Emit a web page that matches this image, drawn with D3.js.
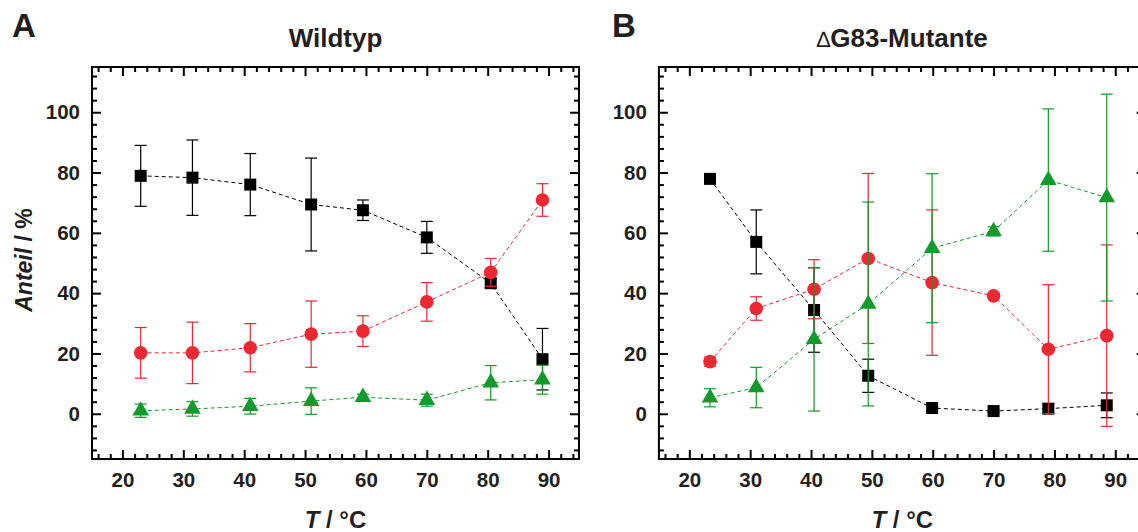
<!DOCTYPE html>
<html><head><meta charset="utf-8">
<script src="https://cdn.jsdelivr.net/npm/d3@7"></script>
<style>
body{margin:0;background:#fff}
svg{display:block}
text{font-family:"Liberation Sans",Arial,Helvetica,sans-serif}
</style>
</head><body>
<svg id="chart" width="1138" height="532"></svg>
<script>
// ---- data ----
const xTicks = [20, 30, 40, 50, 60, 70, 80, 90];
const yTicks = [0, 20, 40, 60, 80, 100];
const panelLetters = ["A", "B"];
const panelTitles = ["Wildtyp", "G83-Mutante"];

const tempA = [23, 31.5, 41, 51, 59.5, 70, 80.5, 89];
const blackA = [78.9, 78.3, 76.0, 69.4, 67.5, 58.5, 43.3, 18.1];
const blackAErr = [10.1, 12.5, 10.3, 15.4, 3.4, 5.3, 1.5, 10.2];
const redA = [20.2, 20.2, 21.9, 26.4, 27.4, 37.1, 46.9, 70.9];
const redAErr = [8.4, 10.2, 8.0, 11.0, 5.1, 6.4, 4.6, 5.4];
const greenA = [1.0, 1.6, 2.5, 4.2, 5.5, 4.5, 10.3, 11.3];
const greenAErr = [2.2, 2.4, 2.6, 4.4, 1.0, 2.0, 5.7, 4.8];

const tempB = [23.4, 31, 40.5, 49.4, 59.9, 70, 79, 88.6];
const blackB = [77.9, 57.0, 34.4, 12.6, 1.9, 0.9, 1.7, 2.8];
const blackBErr = [1.0, 10.6, 14.0, 5.5, 0.8, 0.5, 1.5, 4.1];
const redB = [17.3, 34.9, 41.3, 51.5, 43.5, 39.1, 21.4, 25.9];
const redBErr = [1.5, 3.9, 9.8, 28.2, 24.1, 0.8, 21.4, 30.1];
const greenB = [5.3, 8.7, 24.7, 36.4, 54.9, 60.5, 77.5, 71.7];
const greenBErr = [3.0, 6.7, 23.8, 33.8, 24.7, 1.5, 23.6, 34.3];

// ---- drawing ----
const svg = d3.select("#chart");
const COL = {black: "#000000", red: "#ec2832", green: "#14992b"};
const textCol = "#231f20";

function mk(xs, ys, es) { return xs.map((x, i) => ({x, y: ys[i], e: es[i]})); }

const panels = [
  {left: 92, right: 579, letterX: 12, letter: panelLetters[0], title: panelTitles[0], delta: false,
   series: [
     {c: COL.black, shape: "square", d: mk(tempA, blackA, blackAErr)},
     {c: COL.red, shape: "circle", d: mk(tempA, redA, redAErr)},
     {c: COL.green, shape: "triangle", d: mk(tempA, greenA, greenAErr)}]},
  {left: 658.9, right: 1145.7, letterX: 612, letter: panelLetters[1], title: panelTitles[1], delta: true,
   series: [
     {c: COL.black, shape: "square", d: mk(tempB, blackB, blackBErr)},
     {c: COL.red, shape: "circle", d: mk(tempB, redB, redBErr)},
     {c: COL.green, shape: "triangle", d: mk(tempB, greenB, greenBErr)}]}
];
const plotTop = 67, plotBottom = 459;
const xMinor = d3.range(16, 95, 2).filter(v => v % 10 !== 0);
const yMinor = d3.range(-12, 115, 4).filter(v => v % 20 !== 0);

panels.forEach(p => {
  const x = d3.scaleLinear().domain([15, 95]).range([p.left, p.right]);
  const y = d3.scaleLinear().domain([-15, 115]).range([plotBottom, plotTop]);
  const g = svg.append("g");

  function axis(gen, pos, vals, size, labels, pad) {
    const a = gen.tickValues(vals).tickSizeInner(size).tickSizeOuter(0).tickPadding(pad || 0);
    if (!labels) a.tickFormat("");
    const ag = g.append("g").attr("transform", pos).call(a);
    ag.select(".domain").remove();
    ag.selectAll("line").attr("stroke", "#000").attr("stroke-width", 2);
    ag.selectAll("text").attr("font-size", 20.5).attr("font-weight", "bold").attr("fill", textCol);
    return ag;
  }
  axis(d3.axisBottom(x), `translate(0,${plotBottom})`, xTicks, -9, true, 13);
  axis(d3.axisBottom(x), `translate(0,${plotBottom})`, xMinor, -5, false);
  axis(d3.axisTop(x), `translate(0,${plotTop})`, xTicks, -9, false);
  axis(d3.axisTop(x), `translate(0,${plotTop})`, xMinor, -5, false);
  axis(d3.axisLeft(y), `translate(${p.left},0)`, yTicks, -9, true, 12);
  axis(d3.axisLeft(y), `translate(${p.left},0)`, yMinor, -5, false);
  axis(d3.axisRight(y), `translate(${p.right},0)`, yTicks, -9, false);
  axis(d3.axisRight(y), `translate(${p.right},0)`, yMinor, -5, false);

  g.append("rect").attr("x", p.left).attr("y", plotTop)
    .attr("width", p.right - p.left).attr("height", plotBottom - plotTop)
    .attr("fill", "none").attr("stroke", "#000").attr("stroke-width", 2);

  const line = d3.line().x(d => x(d.x)).y(d => y(d.y));
  p.series.forEach(s => {
    g.append("path").datum(s.d).attr("d", line).attr("fill", "none")
      .attr("stroke", s.c).attr("stroke-width", 1).attr("stroke-dasharray", "4,3");
  });

  p.series.forEach(s => {
    const eb = g.append("g").attr("stroke", s.c).attr("stroke-width", 1.2);
    s.d.forEach(d => {
      const cx = x(d.x);
      eb.append("line").attr("x1", cx).attr("x2", cx).attr("y1", y(d.y + d.e)).attr("y2", y(d.y - d.e));
      [d.y + d.e, d.y - d.e].forEach(v => {
        eb.append("line").attr("x1", cx - 6).attr("x2", cx + 6).attr("y1", y(v)).attr("y2", y(v));
      });
    });
    const mg = g.append("g").attr("fill", s.c);
    if (s.shape === "square") {
      mg.selectAll("rect").data(s.d).join("rect")
        .attr("x", d => x(d.x) - 6).attr("y", d => y(d.y) - 6)
        .attr("width", 12).attr("height", 12);
    } else if (s.shape === "circle") {
      mg.selectAll("circle").data(s.d).join("circle")
        .attr("cx", d => x(d.x)).attr("cy", d => y(d.y)).attr("r", 6.8);
    } else {
      const sym = d3.symbol().type(d3.symbolTriangle).size(120);
      mg.selectAll("path").data(s.d).join("path")
        .attr("d", sym).attr("transform", d => `translate(${x(d.x)},${y(d.y)})`);
    }
  });

  svg.append("text").attr("x", p.letterX).attr("y", 37)
    .attr("font-size", 33).attr("font-weight", "bold").attr("fill", textCol).text(p.letter);
  const cx = (p.left + p.right) / 2;
  const t = svg.append("text").attr("x", cx).attr("y", 47).attr("text-anchor", "middle")
    .attr("font-size", 26).attr("font-weight", "bold").attr("fill", textCol);
  if (p.delta) t.append("tspan").attr("font-weight", "normal").attr("font-size", 22).text("\u2206");
  t.append("tspan").text(p.title);
  const xl = svg.append("text").attr("x", cx).attr("y", 528)
    .attr("text-anchor", "middle").attr("font-size", 24).attr("font-weight", "bold").attr("fill", textCol);
  xl.append("tspan").attr("font-style", "italic").text("T");
  xl.append("tspan").text(" / °C");
});
const yl = svg.append("text").attr("transform", "translate(32,260) rotate(-90)")
  .attr("text-anchor", "middle").attr("font-size", 23).attr("font-weight", "bold").attr("fill", textCol);
yl.append("tspan").attr("font-style", "italic").text("Anteil");
yl.append("tspan").text(" / %");
</script>
</body></html>
